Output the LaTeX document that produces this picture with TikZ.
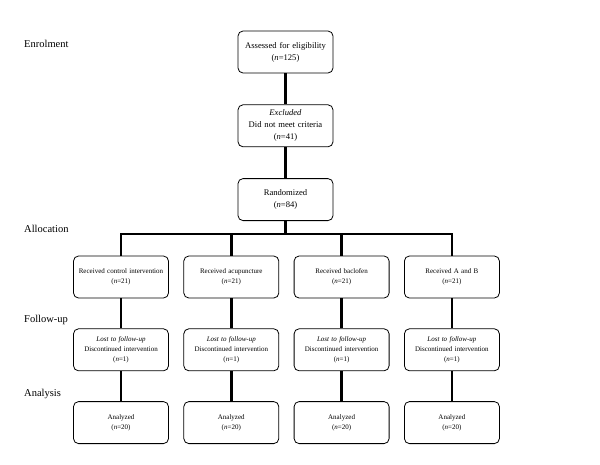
\documentclass[tikz,border=0pt]{standalone}
\usepackage{fontspec}
\setmainfont{Liberation Serif}
\usetikzlibrary{positioning}
\tikzset{
  box/.style={draw, line width=0.8pt, rounded corners=5pt, align=center,
    text width=90pt, minimum width=95pt, minimum height=42pt, inner sep=2.5pt},
  topbox/.style={box, font=\fontsize{8.6}{12}\selectfont},
  armbox/.style={box, font=\fontsize{7}{10}\selectfont},
  stage/.style={anchor=west, inner sep=0pt, font=\fontsize{10.5}{12}\selectfont},
  link/.style={line width=2.8pt, line join=miter}
}

\begin{document}
\begin{tikzpicture}[x=1pt, y=-1pt, node distance=31pt]
\useasboundingbox (0,0) rectangle (600,464);

% stages
\node[stage] (enrol) at (24,44) {Enrolment};
\node[stage] (alloc) at (24,229) {Allocation};
\node[stage] (follow) at (24,320) {Follow-up};
\node[stage] (anal) at (24,394) {Analysis};

% enrolment
\node[topbox] (assess) at (285.5,52) {Assessed for eligibility\\(\textit{n}=125)};
\node[topbox] (excl) [below =of assess] {\textit{Excluded}\\Did not meet criteria\\(\textit{n}=41)};
\node[topbox] (rand) [below =of excl] {Randomized\\(\textit{n}=84)};

% allocation
\node[armbox] (recA) at (121,277) {Received control intervention\\(\textit{n}=21)};
\node[armbox] (recB) [right =14.5pt of recA] {Received acupuncture\\(\textit{n}=21)};
\node[armbox] (recC) [right =14.5pt of recB] {Received baclofen\\(\textit{n}=21)};
\node[armbox] (recD) [right =14.5pt of recC] {Received A and B\\(\textit{n}=21)};

% follow-up
\node[armbox] (lostA) [below =30pt of recA] {\textit{Lost to follow-up}\\Discontinued intervention\\(\textit{n}=1)};
\node[armbox] (lostB) [below =30pt of recB] {\textit{Lost to follow-up}\\Discontinued intervention\\(\textit{n}=1)};
\node[armbox] (lostC) [below =30pt of recC] {\textit{Lost to follow-up}\\Discontinued intervention\\(\textit{n}=1)};
\node[armbox] (lostD) [below =30pt of recD] {\textit{Lost to follow-up}\\Discontinued intervention\\(\textit{n}=1)};

% analysis
\node[armbox] (anA) [below =30pt of lostA] {Analyzed\\(\textit{n}=20)};
\node[armbox] (anB) [below =30pt of lostB] {Analyzed\\(\textit{n}=20)};
\node[armbox] (anC) [below =30pt of lostC] {Analyzed\\(\textit{n}=20)};
\node[armbox] (anD) [below =30pt of lostD] {Analyzed\\(\textit{n}=20)};

% bus
\coordinate (bus) at (rand |- 0,234);
\coordinate (busA) at (recA |- bus);
\coordinate (busB) at (recB |- bus);
\coordinate (busC) at (recC |- bus);
\coordinate (busD) at (recD |- bus);

\draw[link] (assess) -- (excl);
\draw[link] (excl) -- (rand);
\draw[link] (rand) -- (bus);
\draw[link] (recA) -- (busA) -- (busD) -- (recD);
\draw[link] (busB) -- (recB);
\draw[link] (busC) -- (recC);
\draw[link] (recA) -- (lostA);
\draw[link] (recB) -- (lostB);
\draw[link] (recC) -- (lostC);
\draw[link] (recD) -- (lostD);
\draw[link] (lostA) -- (anA);
\draw[link] (lostB) -- (anB);
\draw[link] (lostC) -- (anC);
\draw[link] (lostD) -- (anD);
\end{tikzpicture}
\end{document}
